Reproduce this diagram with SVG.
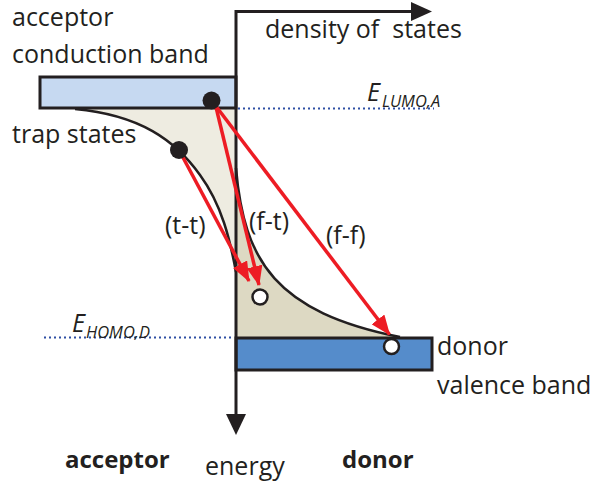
<svg xmlns="http://www.w3.org/2000/svg" width="594" height="482" viewBox="0 0 594 482">
<defs>
<style>
.t{font-family:"Open Sans","Liberation Sans",sans-serif;font-size:25px;fill:#231f20}
.b{font-weight:bold;font-size:24px}
.i{font-style:italic}
.sub{font-size:16.5px}
.ax{stroke:#231f20;stroke-width:3;fill:none}
.cv{stroke:#231f20;stroke-width:2.5;fill:none}
.dot{stroke:#2e4fa3;stroke-width:2;stroke-dasharray:2 3;fill:none}
.band{stroke:#231f20;stroke-width:3}
.red{stroke:#ed1c24;stroke-width:3.5;fill:none;marker-end:url(#ah)}
.full{fill:#231f20}
.hole{fill:#fff;stroke:#231f20;stroke-width:2.5}
</style>
<marker id="ah" markerUnits="userSpaceOnUse" markerWidth="20" markerHeight="16" refX="19" refY="8" orient="auto">
<path d="M0,0 L20,8 L0,16 Z" fill="#ed1c24"/>
</marker>
</defs>
<rect width="594" height="482" fill="#fff"/>

<g id="acceptor-traps">
<path d="M75,109 C140,115 175,140 200,175 C222,205 230,240 236,272 L236,109 Z" fill="#eeece1"/>
<path class="cv" d="M75,109 C140,115 175,140 200,175 C222,205 230,240 236,272"/>
</g>
<g id="donor-traps">
<path d="M236,168 C244,262 276,312 400,337 L236,337 Z" fill="#ddd9c3"/>
<path class="cv" d="M236,168 C244,262 276,312 400,337"/>
</g>

<g id="acceptor-band">
<rect class="band" x="40" y="77" width="196" height="31" fill="#c6d9f1"/>
</g>
<g id="donor-band">
<rect class="band" x="236" y="338" width="196" height="32" fill="#558ccb"/>
</g>

<g id="axes">
<path class="ax" d="M236,415 L236,11.5 L412,11.5"/>
<polygon points="226,414 246,414 236,435" fill="#231f20"/>
<polygon points="411,2 432,11.5 411,21" fill="#231f20"/>
</g>

<g id="levels">
<line class="dot" x1="238" y1="108.5" x2="434" y2="108.5"/>
<line class="dot" x1="44" y1="337.5" x2="234" y2="337.5"/>
</g>

<g id="connectors">
<line class="red" x1="179" y1="150" x2="249" y2="281"/>
<line class="red" x1="215" y1="103" x2="259" y2="285"/>
<line class="red" x1="212" y1="101" x2="389.5" y2="334.5"/>
</g>

<g id="states">
<circle class="full" cx="211.5" cy="100.5" r="9"/>
<circle class="full" cx="179" cy="150" r="9"/>
<circle class="hole" cx="260" cy="297" r="7.5"/>
<circle class="hole" cx="391.5" cy="346.5" r="7.5"/>
</g>

<g id="labels">
<text class="t" x="12" y="26">acceptor</text>
<text class="t" x="12" y="63">conduction band</text>
<text class="t" x="12" y="143">trap states</text>
<text class="t" x="265" y="38" xml:space="preserve">density of  states</text>
<text class="t i" x="367" y="101">E<tspan class="sub" x="382" y="107">LUMO,A</tspan></text>
<text class="t i" x="72" y="332">E<tspan class="sub" x="86" y="338">HOMO,D</tspan></text>
<text class="t" x="165" y="234">(t-t)</text>
<text class="t" x="249" y="230">(f-t)</text>
<text class="t" x="326" y="244">(f-f)</text>
<text class="t" x="437" y="355">donor</text>
<text class="t" x="437" y="394">valence band</text>
<text class="t b" x="65" y="468">acceptor</text>
<text class="t" x="205" y="475">energy</text>
<text class="t b" x="342" y="468">donor</text>
</g>
</svg>
